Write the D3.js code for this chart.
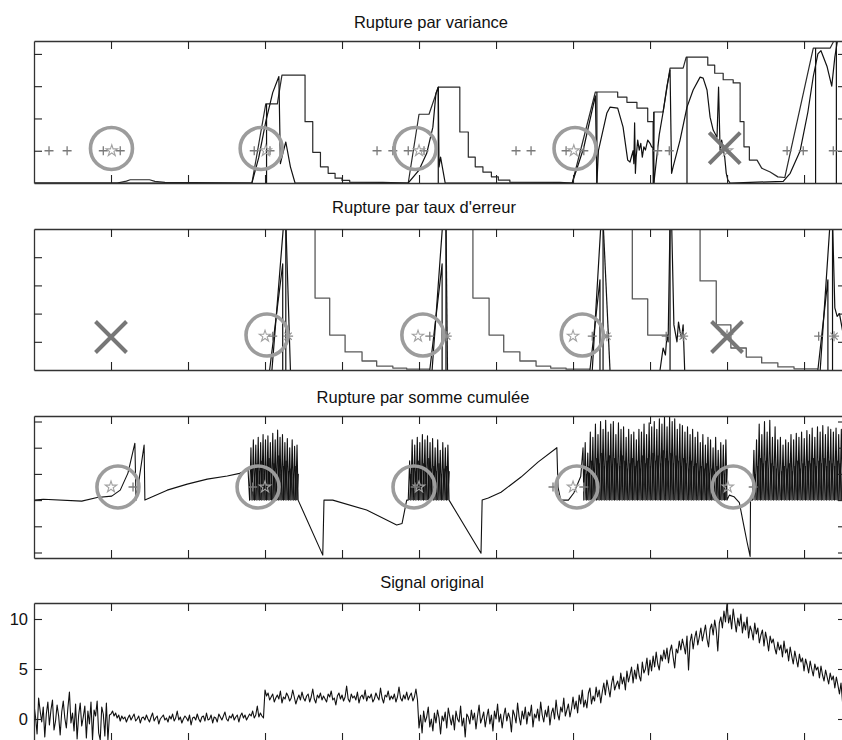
<!DOCTYPE html>
<html>
<head>
<meta charset="utf-8">
<script src="https://cdn.jsdelivr.net/npm/d3@7"></script>
<style>
  body { margin: 0; background: #fff; }
  text { font-family: "Liberation Sans", Arial, Helvetica, sans-serif; }
</style>
</head>
<body>
<svg id="fig" width="842" height="740"></svg>
<script>
// ---------- DATA (x = sample index) ----------
var titles = ['Rupture par variance', "Rupture par taux d'erreur", 'Rupture par somme cumulée', 'Signal original'];
var xTicks = [100, 200, 300, 400, 500, 600, 700, 800, 900, 1000];
var yTicks1 = [1, 2, 3, 4];
var yTicks2 = [1, 2, 3, 4];
var yTicks3 = [-2, -1, 0, 1, 2, 3];
var yTicks4 = [0, 5, 10];

// panel 1 : variance
var varStair = [[0,0],[108,0],[120,0.06],[125,0.1],[150,0.1],[157,0.05],[170,0.02],[283,0],
  [301,2.45],[316,2.45],[322,3.34],[352,3.34],[352,1.9],[362,1.9],[362,0.95],[372,0.95],[372,0.5],[382,0.5],[382,0.3],[391,0.3],[391,0.15],[400,0.15],[400,0.08],[410,0.08],[410,0.03],[453,0.02],[486,0],
  [500,2.13],[513,2.13],[525,2.97],[553,2.97],[553,1.58],[564,1.58],[564,0.8],[573,0.8],[573,0.5],[583,0.5],[583,0.34],[594,0.34],[594,0.19],[603,0.19],[603,0.09],[618,0.09],[618,0.03],[683,0.02],[699,0],
  [729,2.82],[758,2.82],[758,2.66],[770,2.66],[770,2.5],[783,2.5],[783,2.32],[797,2.32],[797,1.9],[804,1.9],[804,0],[805,2.2],[817,2.2],[826,3.56],[843,3.56],[847,3.9],[875,3.9],[875,3.65],[884,3.65],[884,3.4],[895,3.4],[895,3.2],[908,3.2],[908,3.1],[917,3.1],[917,1.9],[922,1.9],[922,1.12],[929,1.12],[929,0.71],[939,0.71],[945,0.46],[956,0.34],[966,0.19],[975,0.17],
  [1012,4.18],[1034,4.18],[1038,4.37],[1045,4.6]];
var varCurve = [[0,0],[283,0],[292,0.8],[301,1.9],[310,2.8],[318,3.3],[320,0.6],[324,1.0],[327,1.27],[333,0.5],[339,0],[486,0],
  [500,0.4],[510,0.92],[518,1.73],[522,2.78],[525,2.97],[526,0.5],[528,0.8],[531,0.4],[534,0],[699,0],
  [714,1.1],[729,2.7],[731,0],[733,1.0],[744,2.17],[748,2.35],[758,2.32],[765,1.73],[771,0.71],[774,0.65],[778,1.0],[779,0.6],[780,1.86],[781,0.3],[782,0.8],[784,1.33],[786,1.02],[788,1.23],[790,0.8],[792,1.12],[794,1.02],[797,1.33],[800,1.23],[802,1.12],[804,1.1],[805,0],
  [812,1.5],[817,2.2],[822,3.0],[826,3.5],[828,0.3],[830,0.5],[839,1.33],[848,2.35],[856,2.88],[865,3.28],[869,3.25],[874,2.88],[878,2.04],[882,1.64],[887,1.42],[889,2.97],[891,1.02],[893,1.33],[897,0.8],[899,0.3],[901,0.1],[904,0],[973,0.05],
  [982,0.3],[995,1.0],[1005,2.2],[1012,3.3],[1018,4.0],[1022,4.1],[1030,3.6],[1036,3.0],[1040,3.9],[1044,4.5]];
var varResets = [[302,2.45],[525,2.97],[731,2.82],[805,2.2],[848,3.9],[1015,4.18],[1042,4.4]];
var varPlus = [19.5,43,90,112,286,306.5,445.5,466,486,506.5,626,645.5,691,714,810,825,978,999,1038];
var varStars = [101,301,500,701,900];
var varCircles = [100.6,295,495,702.6];
var varMissed = [897];

// panel 2 : taux d'erreur
var errPeaks = [
  [[306,0],[323,3.76],[323,0]],
  [[309,0],[324.5,5.3],[327,5.3],[327,0]],
  [[327,5.3],[333,0]],
  [[514,0],[530,3.76],[530,0]],
  [[517,0],[531,5.3],[535,5.3],[535,0]],
  [[535,5.3],[537,0]],
  [[722,0],[735,3.2],[735,0]],
  [[725,0],[736.5,5.3],[739,5.3],[739,0]],
  [[739,5.3],[748,0]],
  [[813,0],[817,0.78],[820,0.53],[822,1.24],[823.5,1.0],[826,5.3],[828,5.3],[831,1.6],[835,1.0],[837,1.7],[839,1.35],[841,1.13],[843,1.6],[845,0]],
  [[826,5.3],[826,0]],
  [[1018,0],[1031,3.2],[1031,0]],
  [[1021,0],[1034,5.3],[1037,5.3],[1037,0]],
  [[1037,5.3],[1040,2.2],[1043,1.9],[1046,2.0],[1050,1.4]]
];
var errStairs = [
  [[333,6],[365,6],[365,2.55],[384,2.55],[384,1.24],[404,1.24],[404,0.64],[426,0.64],[426,0.32],[445,0.32],[445,0.14],[466,0.14],[466,0.07],[484,0.07],[484,0.03],[514,0.03]],
  [[536,6],[570,6],[570,2.55],[591,2.55],[591,1.24],[610,1.24],[610,0.64],[631,0.64],[631,0.32],[652,0.32],[652,0.14],[671,0.14],[671,0.07],[691,0.07],[691,0.03],[722,0.03]],
  [[739,6],[777,6],[777,2.52],[797,2.52],[797,1.24],[823,1.24]],
  [[845,6],[865,6],[865,3.16],[886,3.16],[886,1.6],[905,1.6],[905,0.78],[925,0.78],[925,0.46],[945,0.46],[945,0.25],[966,0.25],[966,0.11],[987,0.11],[987,0.04],[1018,0.04]]
];
var errStars = [300,498.7,700,900];
var errPlus = [310,514,725,821,1019];
var errAst = [330,536,744,843,1039];
var errCircles = [302.6,505,712];
var errMissed = [100,900];

// panel 3 : somme cumulee
var cumA = [[0,0],[12,0.03],[62,-0.04],[82,0.1],[101,0.15],[112,0.38],[122,1.03],[131,2.17],[132.5,0],[143,2.1],[144,0],[173,0.38],[199,0.61],[225,0.8],[251,0.92],[267,1.02],[278,1.15]];
var cumPeaks1 = [2.0,2.3,2.1,2.4,2.2,2.5,2.3,2.45,2.2,2.55,2.3,2.67,2.4,2.5,2.2,2.35,2.0,2.3,2.05,2.1];
var cumB = [[343,0],[375,-2.1],[376.6,0],[388,0],[432,-0.38],[458,-0.76],[471,-0.95],[478,-0.89],[484,0]];
var cumPeaks2 = [1.5,2.3,2.1,2.4,2.2,2.5,2.3,2.45,2.2,2.35,2.0,2.3,1.9,2.2,2.0,2.1];
var cumC = [[539,0],[580.5,-2.03],[582,0],[590,0.08],[606.5,0.3],[632.5,0.88],[654.5,1.45],[679,2.0],[680.5,0.5],[684,0],[694,0],[701,0.27],[710,0.9],[713,2.0]];
var cumPeaks3 = [2.2,1.8,2.6,2.4,2.9,2.5,3.0,2.7,3.05,2.6,2.9,3.0,2.5,2.95,2.7,2.8,2.4,2.7,2.5,2.6,
  2.3,2.7,2.6,2.9,2.5,2.95,2.8,3.0,2.7,3.1,2.9,3.17,2.8,3.2,3.0,3.1,2.7,2.9,2.85,2.6,
  2.8,2.5,2.7,2.4,2.6,2.2,2.5,2.1,2.4,2.3,2.0,2.4,1.9,2.2,2.1,2.3];
var cumD = [[900,0],[903,0.19],[909,0.13],[916,-0.1],[922,-1.0],[926,-1.6],[930,-2.15],[930.5,0],[933,0]];
var cumPeaks4 = [1.9,2.3,2.9,2.5,3.0,2.6,3.05,2.4,2.8,2.3,2.4,2.1,2.3,2.2,2.5,2.3,2.55,2.4,2.6,2.35,
  2.65,2.5,2.75,2.4,2.8,2.6,2.85,2.5,2.8,2.7,2.6,2.75,2.5,2.7];
// shorter in-between oscillations (the dark band inside each burst)
var cumMid1 = [1.2,0.9,1.4,1.1,1.5,1.0,1.3,1.6,1.1,1.4,1.2,1.7,1.0,1.3,1.5,1.1,1.2,0.9,1.3,1.0];
var cumMid2 = [1.0,1.3,1.1,1.5,1.2,1.4,1.0,1.6,1.2,1.3,1.1,1.4,1.0,1.2,1.3,1.1];
var cumMid3 = [1.0,1.3,1.5,1.2,1.6,1.4,1.8,1.3,1.5,1.7,1.2,1.6,1.4,1.3,1.7,1.5,1.2,1.4,1.6,1.3,
  1.5,1.2,1.7,1.4,1.6,1.3,1.8,1.5,1.7,1.4,1.9,1.6,1.5,1.8,1.4,1.7,1.5,1.3,1.6,1.4,
  1.2,1.5,1.3,1.4,1.1,1.3,1.2,1.4,1.0,1.2,1.1,1.3,0.9,1.1,1.0,1.2];
var cumMid4 = [1.0,1.3,1.6,1.4,1.5,1.2,1.4,1.3,1.2,1.0,1.1,1.3,1.2,1.4,1.1,1.3,1.5,1.2,1.4,1.3,
  1.5,1.4,1.6,1.3,1.5,1.4,1.6,1.3,1.5,1.4,1.3,1.5,1.4,1.3];
var cumStars = [100,300,500,700,901];
var cumPlus = [128.6,284,495,674,714,934];
var cumCircles = [109,291,493.5,705,908];

// panel 4 : signal, one value every 2 samples
var signalStep = 2;
var sigA = [1.4,0.2,-1.5,2.1,0.8,-0.3,1.2,-1.8,0.5,1.7,
  -0.6,0.9,1.9,-1.1,-0.2,1.4,0.3,-1.6,0.7,1.8,
  0.1,-0.9,1.1,2.7,-0.4,0.6,-1.2,1.5,-2.0,0.4,
  1.6,-0.7,0.2,1.3,-1.9,0.8,-0.5,1.7,-2.1,0.9,
  0.3,1.8,-1.4,-2.1,1.2,0.5,-1.7,1.6,-2.1,0.4];
var sigB = [0.5,0.8,0.3,0.6,0.1,0.4,-0.2,0.3,0.0,0.2,
  -0.3,0.1,0.4,-0.1,0.2,0.5,-0.2,0.0,0.3,-0.4,
  0.1,0.2,-0.1,0.4,0.0,-0.3,0.2,0.6,-0.2,0.1,
  0.3,-0.5,0.0,0.2,0.4,-0.1,0.1,-0.3,0.3,0.0,
  0.5,-0.2,0.1,0.8,-0.1,0.2,-0.4,0.0,0.3,0.1,
  -0.2,0.4,-0.6,0.1,0.2,-0.1,0.5,0.0,-0.3,0.2,
  0.3,-0.2,0.6,-0.1,0.0,0.4,-0.4,0.2,0.1,-0.3,
  0.5,0.2,-0.1,0.3,0.7,0.0,-0.2,0.3,0.1,0.5,
  -0.1,0.2,0.4,-0.3,0.3,0.6,0.1,0.4,-0.1,0.2,
  0.5,0.3,0.8,0.1,0.4,1.3,0.2,0.6,0.3,0.1];
var sigC = [2.9,2.3,2.6,1.9,2.2,2.5,1.7,2.1,2.4,2.0,
  2.8,1.6,2.2,2.0,2.6,2.3,1.8,2.1,2.9,2.2,
  1.5,2.0,2.4,1.9,2.7,2.1,1.8,2.3,2.5,1.7,
  2.2,3.0,2.0,1.6,2.4,2.1,2.6,1.9,2.3,2.0,
  1.7,2.5,2.2,2.8,1.9,2.1,1.4,2.3,2.6,2.0,
  2.4,1.8,2.2,3.3,2.0,1.7,2.5,2.1,2.3,1.9,
  2.7,1.6,2.2,2.4,2.0,2.9,1.8,2.3,2.1,2.5,
  1.7,2.0,2.6,2.2,1.9,3.1,2.1,1.6,2.4,2.2,
  2.8,1.9,2.3,2.0,2.5,1.7,2.2,3.2,2.1,1.8,
  2.4,2.0,2.7,1.9,2.3,2.6,1.8,2.2,3.0,1.9];
var sigD = [-0.9,0.4,-1.4,0.8,-0.3,0.2,1.2,-0.8,0.0,-1.2,
  0.6,-0.4,0.9,0.1,-1.5,0.3,-0.2,0.7,-0.9,1.1,
  0.2,-0.6,0.4,-1.1,0.8,0.0,-0.3,1.3,-0.7,0.1,
  -1.8,0.5,0.2,-0.5,0.9,-0.1,0.6,-1.0,0.3,1.4,
  -0.4,0.1,0.7,-0.8,0.2,1.0,-0.5,0.4,-1.2,0.8,
  0.0,1.5,-0.3,0.5,-0.9,0.3,1.1,-0.2,0.6,0.1,
  -1.3,0.9,0.4,-0.4,1.6,0.2,-0.6,0.8,0.0,1.2,
  -0.5,0.7,0.3,1.4,-0.8,0.5,0.1,1.0,-0.2,1.7,
  0.4,-0.3,0.9,0.2,1.3,-0.6,0.6,1.1,0.0,1.9,
  0.5,-0.1,1.2,0.7,2.1,0.3,0.9,1.5,0.2,1.0];
var sigE = [2.2,1.0,1.8,0.6,2.4,1.5,2.9,1.2,1.9,1.1,
  2.6,3.1,1.5,2.3,1.8,3.2,2.2,2.9,1.6,2.7,
  3.6,2.4,3.9,3.1,2.2,3.5,4.3,2.9,3.4,3.8,
  3.0,4.6,3.5,4.2,2.9,4.8,3.7,4.4,5.2,3.6,
  4.9,4.0,5.5,4.3,3.8,5.7,4.6,5.0,6.1,4.4,
  5.9,4.8,6.3,5.2,6.7,5.5,4.9,6.4,5.8,6.9,
  6.0,7.1,5.6,6.8,7.4,6.2,5.1,7.0,6.6,7.8,
  6.9,8.0,7.3,6.5,8.3,4.9,7.7,8.5,7.0,8.1,
  8.8,7.4,8.2,9.1,7.8,8.6,9.4,8.0,7.2,9.0,
  9.5,8.4,9.9,8.9,6.8,9.6,10.2,9.1,10.8,9.7];
var sigF = [11.6,9.6,10.4,9.0,11.0,9.8,8.7,10.1,9.3,10.5,
  8.6,9.7,8.9,10.2,8.1,9.3,8.8,7.9,9.6,8.5,
  9.1,7.6,8.4,8.9,7.3,8.7,7.9,6.8,8.3,7.6,
  8.0,7.1,6.5,7.7,6.9,7.4,6.2,7.8,6.6,7.0,
  5.8,7.2,6.3,5.5,6.8,6.0,5.2,6.5,5.7,6.1,
  4.8,6.0,5.4,4.6,5.8,5.0,4.3,5.5,4.9,5.2,
  4.1,5.3,4.4,3.8,4.9,4.2,3.5,4.6,3.9,4.3,
  3.1,4.2,3.4,2.5,3.6,1.7];

// ---------- DRAWING ----------
var svg = d3.select('#fig');
var x = d3.scaleLinear().domain([0, 1054.5]).range([34, 846]);

var layout = [
  { title: titles[0], tx: 431, ty: 28,  top: 41,  bottom: 183, yDomain: [0, 4.4],       yTicks: yTicks1, labels: false },
  { title: titles[1], tx: 424, ty: 213, top: 229, bottom: 370, yDomain: [0, 5],         yTicks: yTicks2, labels: false },
  { title: titles[2], tx: 423, ty: 403, top: 416, bottom: 558, yDomain: [-2.21, 3.21],  yTicks: yTicks3, labels: false },
  { title: titles[3], tx: 432, ty: 588, top: 603, bottom: 741, yDomain: [-2.2, 11.6],   yTicks: yTicks4, labels: true }
];

var markerGrey = '#7a7a7a';
var circleGrey = '#9c9c9c';

function setupPanel(cfg, i) {
  var g = svg.append('g').attr('class', 'panel-' + i);
  var y = d3.scaleLinear().domain(cfg.yDomain).range([cfg.bottom, cfg.top]);

  svg.append('clipPath').attr('id', 'clip-' + i)
    .append('rect')
    .attr('x', 34).attr('y', cfg.top)
    .attr('width', 812).attr('height', cfg.bottom - cfg.top);

  g.append('text')
    .attr('x', cfg.tx).attr('y', cfg.ty)
    .attr('text-anchor', 'middle')
    .style('font-size', '16.5px')
    .attr('fill', '#111')
    .text(cfg.title);

  var plot = g.append('g').attr('clip-path', 'url(#clip-' + i + ')');

  // frame + inward ticks (matlab style)
  var axes = g.append('g').attr('class', 'axes');
  axes.append('g').attr('transform', 'translate(0,' + cfg.bottom + ')')
    .call(d3.axisBottom(x).tickValues(xTicks).tickSize(-8).tickSizeOuter(0).tickFormat(''));
  axes.append('g').attr('transform', 'translate(0,' + cfg.top + ')')
    .call(d3.axisTop(x).tickValues(xTicks).tickSize(-8).tickSizeOuter(0).tickFormat(''));
  axes.append('g').attr('transform', 'translate(34,0)')
    .call(d3.axisLeft(y).tickValues(cfg.yTicks).tickSize(-8).tickSizeOuter(0).tickPadding(6)
      .tickFormat(cfg.labels ? d3.format('d') : ''));
  axes.append('g').attr('transform', 'translate(846,0)')
    .call(d3.axisRight(y).tickValues(cfg.yTicks).tickSize(-8).tickSizeOuter(0).tickFormat(''));
  axes.selectAll('path.domain').attr('stroke', '#333').attr('stroke-width', 1.3);
  axes.selectAll('.tick line').attr('stroke', '#222').attr('stroke-width', 1.1);
  axes.selectAll('.tick text')
    .style('font-family', '"Liberation Sans", Arial, sans-serif')
    .style('font-size', '16.5px')
    .attr('fill', '#111');

  return { g: g, plot: plot, y: y };
}

var panels = layout.map(setupPanel);

function drawPath(p, data, color, width) {
  var gen = d3.line().x(function (d) { return x(d[0]); }).y(function (d) { return p.y(d[1]); });
  p.plot.append('path')
    .attr('d', gen(data))
    .attr('fill', 'none')
    .attr('stroke', color)
    .attr('stroke-width', width)
    .attr('stroke-linejoin', 'round');
}

// turn a list of peak heights into a zigzag between s0 and s1
function zigzag(s0, s1, peaks, phase) {
  var w = (s1 - s0) / peaks.length;
  var off = (phase || 0) * w;
  var pts = [];
  peaks.forEach(function (p, i) {
    pts.push([s0 + off + i * w, 0], [s0 + off + i * w + w * 0.55, p]);
  });
  pts.push([s1 + off - (phase ? w : 0), 0]);
  return pts;
}

function plus(p, s, v, color) {
  var cx = x(s), cy = p.y(v), h = 4.5;
  p.g.append('path')
    .attr('d', 'M' + (cx - h) + ',' + cy + 'H' + (cx + h) + 'M' + cx + ',' + (cy - h) + 'V' + (cy + h))
    .attr('stroke', color || markerGrey).attr('stroke-width', 1.3).attr('fill', 'none');
}
function asterisk(p, s, v) {
  var cx = x(s), cy = p.y(v), h = 5, k = 3.6;
  p.g.append('path')
    .attr('d', 'M' + (cx - h) + ',' + cy + 'H' + (cx + h) + 'M' + cx + ',' + (cy - h) + 'V' + (cy + h) +
      'M' + (cx - k) + ',' + (cy - k) + 'L' + (cx + k) + ',' + (cy + k) + 'M' + (cx - k) + ',' + (cy + k) + 'L' + (cx + k) + ',' + (cy - k))
    .attr('stroke', '#8a8a8a').attr('stroke-width', 1.1).attr('fill', 'none');
}
var starSymbol = d3.symbol().type(d3.symbolStar).size(40);
function star(p, s, v) {
  p.g.append('path')
    .attr('d', starSymbol())
    .attr('transform', 'translate(' + x(s) + ',' + p.y(v) + ')')
    .attr('fill', 'none').attr('stroke', '#a2a2a2').attr('stroke-width', 1.1);
}
function ring(p, s, v) {
  p.g.append('circle')
    .attr('cx', x(s)).attr('cy', p.y(v)).attr('r', 21)
    .attr('fill', 'none').attr('stroke', circleGrey).attr('stroke-width', 3.6);
}
function cross(p, s, v) {
  var cx = x(s), cy = p.y(v), h = 15.5;
  p.g.append('path')
    .attr('d', 'M' + (cx - h) + ',' + (cy - h) + 'L' + (cx + h) + ',' + (cy + h) + 'M' + (cx - h) + ',' + (cy + h) + 'L' + (cx + h) + ',' + (cy - h))
    .attr('stroke', '#777').attr('stroke-width', 4).attr('fill', 'none');
}

// ---- panel 1
var p1 = panels[0];
drawPath(p1, varStair, '#2a2a2a', 1.2);
drawPath(p1, varCurve, '#111', 1.2);
varResets.forEach(function (d) { drawPath(p1, [[d[0], 0], d], '#111', 1.2); });
varPlus.forEach(function (s) { plus(p1, s, 1.0); });
varStars.forEach(function (s) { star(p1, s, 1.0); });
varCircles.forEach(function (s) { ring(p1, s, 1.07); });
varMissed.forEach(function (s) { cross(p1, s, 1.08); });

// ---- panel 2
var p2 = panels[1];
errStairs.forEach(function (d) { drawPath(p2, d, '#5a5a5a', 1.3); });
errPeaks.forEach(function (d) { drawPath(p2, d, '#111', 1.2); });
errStars.forEach(function (s) { star(p2, s, 1.2); });
errPlus.forEach(function (s) { plus(p2, s, 1.2); });
errAst.forEach(function (s) { asterisk(p2, s, 1.2); });
errCircles.forEach(function (s) { ring(p2, s, 1.24); });
errMissed.forEach(function (s) { cross(p2, s, 1.17); });

// ---- panel 3
var p3 = panels[2];
var bursts = [[280, 343, cumPeaks1, cumMid1], [486, 539, cumPeaks2, cumMid2], [714, 900, cumPeaks3, cumMid3], [933, 1050, cumPeaks4, cumMid4]];
bursts.forEach(function (b) { drawPath(p3, zigzag(b[0], b[1], b[3], 0.5), '#222', 0.9); });
var cumLine = [].concat(cumA, zigzag(280, 343, cumPeaks1), cumB, zigzag(486, 539, cumPeaks2),
  cumC, zigzag(714, 900, cumPeaks3), cumD, zigzag(933, 1050, cumPeaks4));
drawPath(p3, cumLine, '#111', 1.1);
cumStars.forEach(function (s) { star(p3, s, 0.5); });
cumPlus.forEach(function (s) { plus(p3, s, 0.5); });
cumCircles.forEach(function (s) { ring(p3, s, 0.5); });

// ---- panel 4
var p4 = panels[3];
var signal = [].concat(sigA, sigB, sigC, sigD, sigE, sigF).map(function (v, i) { return [i * signalStep, v]; });
drawPath(p4, signal, '#111', 1.1);
</script>
</body>
</html>
